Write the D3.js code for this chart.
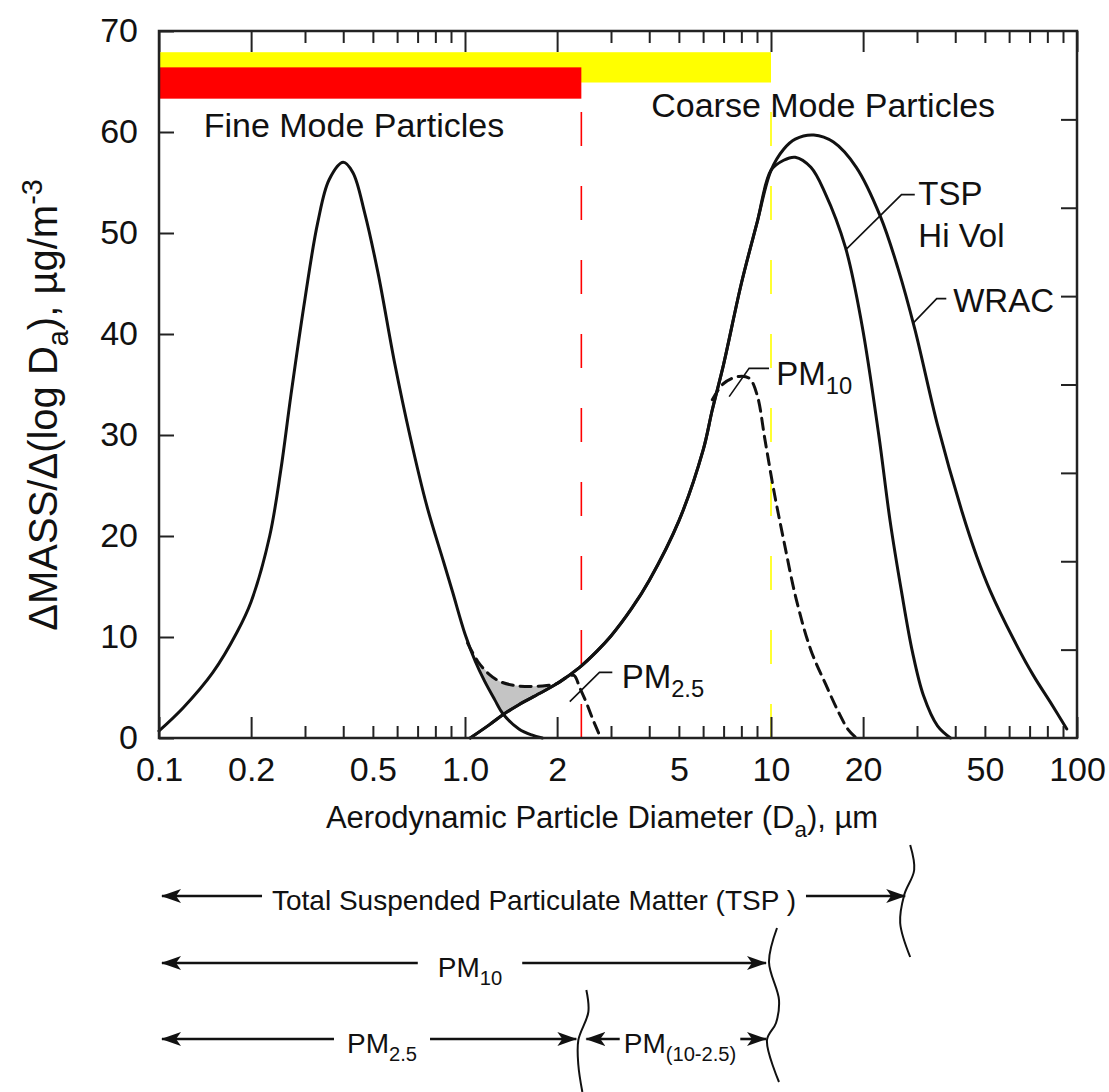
<!DOCTYPE html>
<html>
<head>
<meta charset="utf-8">
<script src="https://cdn.jsdelivr.net/npm/d3@7"></script>
<style>
  body { margin: 0; background: #fff; }
  text { font-family: "Liberation Sans", Arial, sans-serif; fill: #111; }
</style>
</head>
<body>
<svg id="chart"></svg>
<script>
// ---- data (x in µm, y in µg/m3 per log Da) ----
const fineX = [0.1, 0.12, 0.15, 0.18, 0.2, 0.23, 0.25, 0.27, 0.3, 0.33, 0.36, 0.4, 0.43, 0.47, 0.52, 0.59, 0.66, 0.75, 0.85, 0.91, 1.0, 1.08, 1.16, 1.25, 1.33, 1.5, 1.65, 1.79];
const fineY = [0.7, 3, 6.5, 10.5, 13.5, 20, 26.5, 34, 43.5, 51, 55.3, 57, 56, 52, 46, 37, 30, 23, 17.5, 14.5, 10.3, 7.6, 5.6, 3.8, 2.4, 0.9, 0.3, 0];

const riseX = [1.04, 1.2, 1.33, 1.5, 1.75, 2.0, 2.37, 2.7, 3, 3.5, 4, 5, 6, 6.43, 7, 8, 9, 10];
const riseY = [0, 1.3, 2.3, 3.3, 4.4, 5.4, 7.0, 8.6, 10.1, 12.8, 15.6, 21.5, 28.5, 32.5, 37, 45, 51, 56.2];

const tspX = [11, 12, 13.5, 15, 17.5, 19.8, 22.5, 24.5, 26.7, 29, 31.5, 35, 38.6];
const tspY = [57.2, 57.5, 56.5, 54, 48.6, 41, 30, 21.5, 14.5, 8.5, 4.2, 1.2, 0];

const wracX = [11, 12, 13.8, 16, 19, 22.8, 26, 29.5, 35, 42, 47, 52, 62, 72, 82, 92.6];
const wracY = [58.3, 59.3, 59.7, 59, 56.5, 51.6, 46.5, 40.5, 31, 22.5, 18, 14.6, 9.8, 6.2, 3.5, 0.9];

const pm10X = [6.43, 7, 7.86, 8.5, 9, 9.56, 10.2, 11, 12.1, 13.5, 15.1, 16.6, 17.9, 19];
const pm10Y = [33.5, 35.1, 35.8, 35.6, 34, 29.5, 24.6, 19.6, 13.7, 8.7, 5.3, 2.6, 0.8, 0];

const pm25X = [1.02, 1.1, 1.2, 1.3, 1.45, 1.65, 1.85, 2.0, 2.15, 2.27, 2.37, 2.5, 2.62, 2.75];
const pm25Y = [9.4, 7.6, 6.3, 5.6, 5.2, 5.1, 5.2, 5.4, 6.0, 6.2, 5.0, 3.4, 1.8, 0.3];

// mode bands at the top
const bandNames = ["Coarse", "Fine"];
const bandTo = [10, 2.4];
const bandTop = [67.9, 66.4];
const bandBottom = [64.9, 63.3];

// axes
const xLabelVals = [0.1, 0.2, 0.5, 1, 2, 5, 10, 20, 50, 100];
const xLabelText = ["0.1", "0.2", "0.5", "1.0", "2", "5", "10", "20", "50", "100"];
const yTicks = [0, 10, 20, 30, 40, 50, 60, 70];
const rightTicks = [10, 20, 30, 40, 50, 60, 70];

// size-fraction ranges under the chart
const rangeFrom = [0.1, 0.1, 0.1, 2.4];
const rangeTo = [28.5, 10, 2.4, 10];

const W = 1109, H = 1092;
const svg = d3.select("#chart").attr("width", W).attr("height", H);

const x = d3.scaleLog().domain([0.1, 100]).range([159, 1077]);
const y = d3.scaleLinear().domain([0, 70]).range([738, 31]);
const yRight = d3.scaleLinear().domain([0, 80]).range([738, 31]);

const bandColor = { Coarse: "#ffff00", Fine: "#ff0000" };
const ink = "#111";

// long ticks on 1 and 2 of each decade, short on the rest
const allTicks = [];
[0.1, 1, 10].forEach(dec => d3.range(1, 10).forEach(m => allTicks.push(+(dec * m).toPrecision(3))));
allTicks.push(100);
const longTicks = allTicks.filter(v => { const m = Math.round(v / Math.pow(10, Math.floor(Math.log10(v) + 1e-9))); return m === 1 || m === 2; });
const shortTicks = allTicks.filter(v => !longTicks.includes(v));

// ---- bands ----
svg.append("g").selectAll("rect")
  .data(bandNames)
  .join("rect")
  .attr("x", x(0.1))
  .attr("y", (d, i) => y(bandTop[i]))
  .attr("width", (d, i) => x(bandTo[i]) - x(0.1))
  .attr("height", (d, i) => y(bandBottom[i]) - y(bandTop[i]))
  .attr("fill", d => bandColor[d]);

// ---- mode text ----
svg.append("text").attr("x", x(0.14)).attr("y", y(59.5)).attr("font-size", 34).text("Fine Mode Particles");
svg.append("text").attr("x", x(4.06)).attr("y", y(61.5)).attr("font-size", 34).text("Coarse Mode Particles");

// ---- dashed cut lines ----
bandNames.forEach((b, i) => {
  svg.append("line")
    .attr("x1", x(bandTo[i])).attr("x2", x(bandTo[i]))
    .attr("y1", y(0)).attr("y2", y(bandBottom[i]))
    .attr("stroke", bandColor[b]).attr("stroke-width", 1.6)
    .attr("stroke-dasharray", "34,40");
});

// ---- shaded gap between PM2.5 sampler curve and the two modes ----
const toPts = (xs, ys) => xs.map((v, i) => [v, ys[i]]);
function interp(xs, ys, v) {
  if (v <= xs[0]) return ys[0];
  if (v >= xs[xs.length - 1]) return ys[ys.length - 1];
  const i = d3.bisectRight(xs, v) - 1;
  const t = (Math.log(v) - Math.log(xs[i])) / (Math.log(xs[i + 1]) - Math.log(xs[i]));
  return ys[i] + t * (ys[i + 1] - ys[i]);
}
const lower = v => Math.max(interp(fineX, fineY, v), v < riseX[0] ? 0 : interp(riseX, riseY, v));
const shadeXs = d3.range(0, 1.0001, 0.02).map(t => Math.exp(Math.log(1.02) + t * (Math.log(2.0) - Math.log(1.02))));
svg.append("path")
  .datum(shadeXs)
  .attr("fill", "#c4c4c4")
  .attr("d", d3.area()
    .x(d => x(d))
    .y0(d => y(lower(d)))
    .y1(d => y(Math.max(interp(pm25X, pm25Y, d), lower(d))))
    .curve(d3.curveMonotoneX));

// ---- curves ----
const line = d3.line().x(d => x(d[0])).y(d => y(d[1])).curve(d3.curveCatmullRom.alpha(0.5));
const curves = [
  { pts: toPts(fineX, fineY), dash: null },
  { pts: toPts(riseX.concat(tspX), riseY.concat(tspY)), dash: null },
  { pts: toPts(riseX.concat(wracX), riseY.concat(wracY)), dash: null },
  { pts: toPts(pm10X, pm10Y), dash: "11,7" },
  { pts: toPts(pm25X, pm25Y), dash: "11,7" }
];
svg.append("g").selectAll("path")
  .data(curves)
  .join("path")
  .attr("d", d => line(d.pts))
  .attr("fill", "none")
  .attr("stroke", ink)
  .attr("stroke-width", 3)
  .attr("stroke-linecap", "round")
  .attr("stroke-dasharray", d => d.dash);

// ---- curve labels and leaders ----
function rich(sel, parts, size) {
  parts.forEach(p => {
    const t = sel.append("tspan").text(p[0]);
    if (p[1] === "sub") t.attr("font-size", size * 0.72).attr("dy", size * 0.28);
    else if (p[1] === "sup") t.attr("font-size", size * 0.72).attr("dy", -size * 0.38);
    else if (p[1] === "back") t.attr("dy", -size * 0.28);
  });
  return sel;
}
const notes = [
  { parts: [["TSP"]], at: [30.3, 52.8] },
  { parts: [["Hi Vol"]], at: [30.3, 48.6] },
  { parts: [["WRAC"]], at: [39.4, 42.2] },
  { parts: [["PM"], ["10", "sub"]], at: [10.4, 35.0] },
  { parts: [["PM"], ["2.5", "sub"]], at: [3.25, 4.95] }
];
notes.forEach(n => rich(svg.append("text").attr("x", x(n.at[0])).attr("y", y(n.at[1])).attr("font-size", 33), n.parts, 33));
const leaders = [
  [[29.5, 53.8], [26.7, 53.8], [17.5, 48.3]],
  [[37.4, 43.5], [34.8, 43.5], [29.2, 41.1]],
  [[9.85, 36.6], [8.48, 36.6], [7.3, 33.8]],
  [[3.03, 6.5], [2.75, 6.5], [2.2, 3.6]]
];
svg.append("g").selectAll("path")
  .data(leaders)
  .join("path")
  .attr("d", d => d3.line().x(p => x(p[0])).y(p => y(p[1]))(d))
  .attr("fill", "none").attr("stroke", ink).attr("stroke-width", 1.6);

// ---- frame and axes ----
svg.append("rect")
  .attr("x", x(0.1)).attr("y", y(70))
  .attr("width", x(100) - x(0.1)).attr("height", y(0) - y(70))
  .attr("fill", "none").attr("stroke", "#222").attr("stroke-width", 2.5);

function tickAxis(axis, transform) {
  svg.append("g").attr("transform", transform).call(axis)
    .call(g => g.select(".domain").remove())
    .call(g => g.selectAll(".tick line").attr("stroke", "#222").attr("stroke-width", 2))
    .call(g => g.selectAll(".tick text").attr("font-size", 34).attr("fill", ink)
      .style("font-family", '"Liberation Sans", Arial, sans-serif'));
}
tickAxis(d3.axisBottom(x).tickValues(longTicks).tickSize(-21).tickFormat(""), `translate(0,${y(0)})`);
tickAxis(d3.axisBottom(x).tickValues(shortTicks).tickSize(-12).tickFormat(""), `translate(0,${y(0)})`);
tickAxis(d3.axisTop(x).tickValues(longTicks).tickSize(-21).tickFormat(""), `translate(0,${y(70)})`);
tickAxis(d3.axisTop(x).tickValues(shortTicks).tickSize(-12).tickFormat(""), `translate(0,${y(70)})`);
tickAxis(d3.axisBottom(x).tickValues(xLabelVals).tickSize(0).tickPadding(19)
  .tickFormat((d, i) => xLabelText[i]), `translate(0,${y(0)})`);
tickAxis(d3.axisLeft(y).tickValues(yTicks).tickSize(-15).tickPadding(21), `translate(${x(0.1)},0)`);
tickAxis(d3.axisRight(yRight).tickValues(rightTicks).tickSize(-16).tickFormat(""), `translate(${x(100)},0)`);

// axis titles
rich(svg.append("text").attr("x", 602).attr("y", 828).attr("text-anchor", "middle").attr("font-size", 31),
  [["Aerodynamic Particle Diameter (D"], ["a", "sub"], ["), µm", "back"]], 31);
rich(svg.append("text").attr("transform", "translate(57,405) rotate(-90)").attr("text-anchor", "middle").attr("font-size", 40),
  [["ΔMASS/Δ(log D"], ["a", "sub"], ["), µg/m", "back"], ["-3", "sup"]], 40);

// ---- size-fraction arrows under the chart ----
const defs = svg.append("defs");
defs.append("marker").attr("id", "tip")
  .attr("viewBox", "0 0 20 14").attr("refX", 19).attr("refY", 7)
  .attr("markerWidth", 20).attr("markerHeight", 14)
  .attr("markerUnits", "userSpaceOnUse").attr("orient", "auto")
  .append("path").attr("d", "M0,0 L20,7 L0,14 L5,7 Z").attr("fill", ink);

const rowY = [896, 963, 1039, 1039];
const rowCx = [534, 470, 382, 680];
const rowGap = [10, 20, 13, 4];
const rowLabels = [
  [["Total Suspended Particulate Matter (TSP )"]],
  [["PM"], ["10", "sub"]],
  [["PM"], ["2.5", "sub"]],
  [["PM"], ["(10-2.5)", "sub"]]
];
rowLabels.forEach((parts, i) => {
  const t = rich(svg.append("text").attr("x", rowCx[i]).attr("y", rowY[i] + 14)
    .attr("text-anchor", "middle").attr("font-size", 28), parts, 28);
  const w = t.node().getComputedTextLength();
  const left = x(rangeFrom[i]) + (i === 3 ? 5 : 3);
  const right = x(rangeTo[i]) - 5;
  [[rowCx[i] - w / 2 - rowGap[i], left], [rowCx[i] + w / 2 + rowGap[i], right]].forEach(s => {
    svg.append("line").attr("x1", s[0]).attr("x2", s[1]).attr("y1", rowY[i]).attr("y2", rowY[i])
      .attr("stroke", ink).attr("stroke-width", 2.6).attr("marker-end", "url(#tip)");
  });
});

// wavy brace marks at the cut sizes
const braceAt = [28.5, 10, 2.4];
const braceShape = [
  [[0, 845], [4, 870], [-6, 895], [-10, 923], [0, 957]],
  [[6, 928], [-2, 962], [8, 1000], [5, 1023], [-4, 1040], [8, 1082]],
  [[5, 990], [7, 1012], [-3, 1040], [-3, 1065], [1, 1092]]
];
svg.append("g").selectAll("path")
  .data(braceAt)
  .join("path")
  .attr("d", (d, i) => d3.line().x(p => x(d) + p[0]).y(p => p[1]).curve(d3.curveCatmullRom)(braceShape[i]))
  .attr("fill", "none").attr("stroke", ink).attr("stroke-width", 2);
</script>
</body>
</html>
